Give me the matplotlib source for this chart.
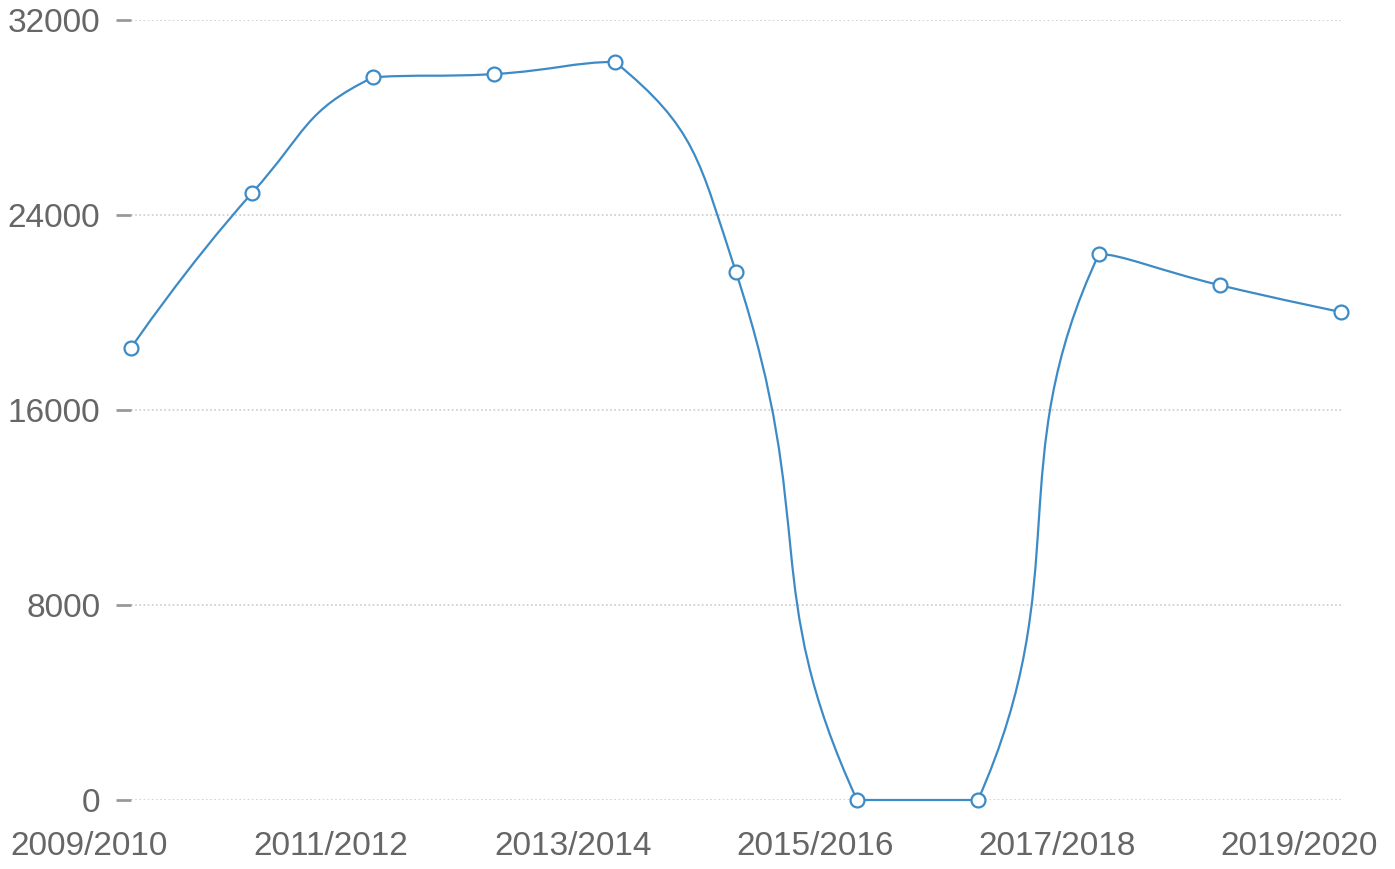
import numpy as np
import matplotlib
matplotlib.use("Agg")
import matplotlib.pyplot as plt
from matplotlib.path import Path
from matplotlib.patches import PathPatch
from matplotlib.transforms import ScaledTranslation

seasons = ["2009/2010", "2010/2011", "2011/2012", "2012/2013", "2013/2014", "2014/2015",
           "2015/2016", "2016/2017", "2017/2018", "2018/2019", "2019/2020"]
values = [18550, 24900, 29650, 29780, 30280, 21650, 0, 0, 22400, 21120, 20020]
y_ticks = [0, 8000, 16000, 24000, 32000]

line_color = "#3d8bc6"


def smooth_path(pts, smooth=0.5):
    # smoothed bezier; each control point is kept inside its own segment's box
    n = len(pts)
    verts = [tuple(pts[0])]
    codes = [Path.MOVETO]
    cp0 = pts[0].copy()
    for i in range(1, n):
        p, prev = pts[i], pts[i - 1]
        if i < n - 1:
            nxt = pts[i + 1]
            v = (nxt - prev) * smooth
            lp = np.hypot(*(p - prev))
            ln = np.hypot(*(nxt - p))
            r = ln / (ln + lp)
            cp1 = p - v * (1 - r)
            ncp0 = p + v * r
            cp1 = np.clip(cp1, np.minimum(prev, p), np.maximum(prev, p))
            ncp0 = np.clip(ncp0, np.minimum(nxt, p), np.maximum(nxt, p))
        else:
            cp1 = p.copy()
            ncp0 = p.copy()
        verts += [tuple(cp0), tuple(cp1), tuple(p)]
        codes += [Path.CURVE4] * 3
        cp0 = ncp0
    return np.array(verts), codes


fig = plt.figure(figsize=(13.95, 8.69), dpi=100)
ax = fig.add_axes([131 / 1395, 69 / 869, 1210 / 1395, 780 / 869])
xs = np.arange(len(seasons))
ax.set_xlim(0, len(seasons) - 1)
ax.set_ylim(0, 32000)

for v in y_ticks:
    ax.axhline(v, color="#cccccc", linewidth=1.2, linestyle=(0, (1, 1.5)), zorder=0)

# smooth line built in display space
disp = ax.transData.transform(np.column_stack([xs, values]))
verts, codes = smooth_path(disp)
data_verts = ax.transData.inverted().transform(verts)
ax.add_patch(PathPatch(Path(data_verts, codes), facecolor="none", edgecolor=line_color,
                       linewidth=1.6, zorder=2, clip_on=False))
ax.plot(xs, values, linestyle="none", marker="o", markersize=10, markerfacecolor="white",
        markeredgecolor=line_color, markeredgewidth=1.6, zorder=3, clip_on=False)

for s in ax.spines.values():
    s.set_visible(False)

ax.set_yticks(y_ticks)
ax.set_yticklabels([str(v) for v in y_ticks])
ax.tick_params(axis="y", length=11, width=2, color="#999999", pad=11,
               labelsize=24, labelcolor="#666666")

ax.set_xticks(xs[::2])
ax.set_xticklabels([seasons[i] for i in xs[::2]])
ax.tick_params(axis="x", length=0, pad=22, labelsize=24, labelcolor="#666666")
shift = ScaledTranslation(-0.42, 0, fig.dpi_scale_trans)
for lbl in ax.get_xticklabels():
    lbl.set_transform(lbl.get_transform() + shift)

for lbl in ax.get_xticklabels() + ax.get_yticklabels():
    lbl.set_fontfamily("Liberation Sans")

fig.savefig("out.png", dpi=100)
